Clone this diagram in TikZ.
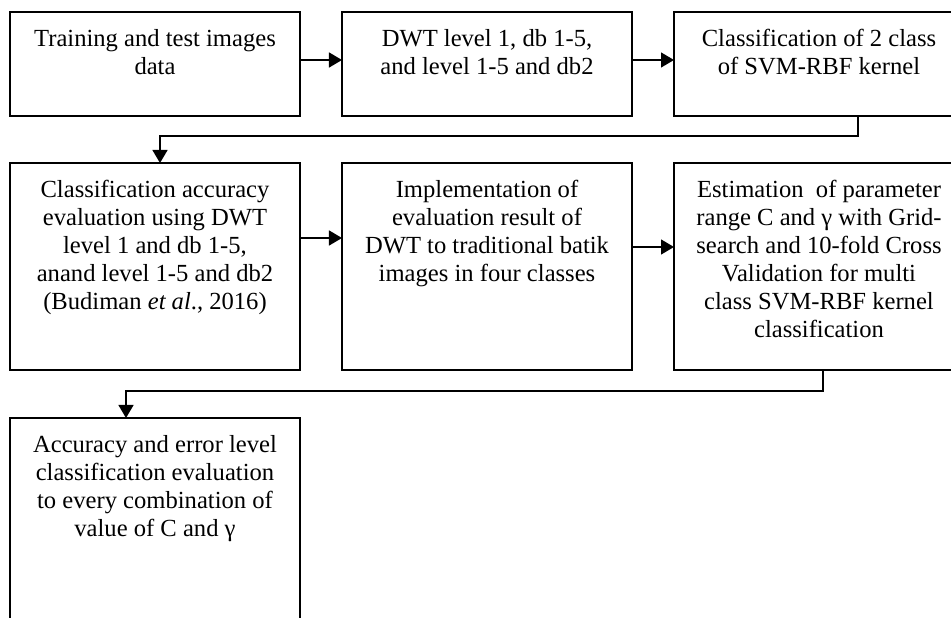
\documentclass[tikz,border=0pt]{standalone}
\usepackage{fontspec}
\setmainfont{Liberation Serif}
\usepackage{tikz}
\usepackage{tkz-graph}
\usetikzlibrary{arrows.meta}

\newcommand{\boxtext}[2]{\parbox[t][#1][t]{5.8cm}{\centering\rule{0pt}{19.9pt}#2}}

\begin{document}
\begin{tikzpicture}[flow/.style={line width=0.9pt,-{Triangle[length=7.4pt,width=8.5pt]}}]
        \clip (0,0) rectangle (19.02,-12.36);
        \GraphInit[vstyle=normal]
        \tikzset{VertexStyle/.style={draw,rectangle,inner sep=0pt,line width=0.9pt,
                 text=black,font=\fontsize{14}{15.9}\selectfont}}
        \SetGraphUnit{6.64}
        \Vertex[x=3.1,y=-1.28,L={\boxtext{2.08cm}{Training and test images\\data}}]{b1}
        \EA[L={\boxtext{2.08cm}{DWT level 1, db 1-5,\\and level 1-5 and db2}}](b1){b2}
        \EA[L={\boxtext{2.08cm}{Classification of 2 class\\of SVM-RBF kernel}}](b2){b3}
        \SO[unit=4.05,L={\boxtext{4.14cm}{Classification accuracy\\evaluation using DWT\\level 1 and db 1-5,\\anand level 1-5 and db2\\(Budiman \textit{et al}., 2016)}}](b1){b4}
        \EA[L={\boxtext{4.14cm}{Implementation of\\evaluation result of\\DWT to traditional batik\\images in four classes}}](b4){b5}
        \EA[L={\boxtext{4.14cm}{Estimation~ of parameter\\range C and γ with Grid-\\search and 10-fold Cross\\Validation for multi\\class SVM-RBF kernel\\classification}}](b5){b6}
        \SO[unit=5.63,L={\boxtext{5.2cm}{Accuracy and error level\\classification evaluation\\to every combination of\\value of C and γ}}](b4){b7}
        \draw[flow] ([yshift=0.08cm]b1.east) -- ([yshift=0.08cm]b2.west);
        \draw[flow] ([yshift=0.08cm]b2.east) -- ([yshift=0.08cm]b3.west);
        \draw[flow] ([xshift=0.78cm]b3.south) -- ++(0,-0.4) -| ([xshift=0.1cm]b4.north);
        \draw[flow] ([yshift=0.57cm]b4.east) -- ([yshift=0.57cm]b5.west);
        \draw[flow] ([yshift=0.39cm]b5.east) -- ([yshift=0.39cm]b6.west);
        \draw[flow] ([xshift=0.08cm]b6.south) -- ++(0,-0.42) -| ([xshift=-0.58cm]b7.north);
    \end{tikzpicture}
\end{document}
